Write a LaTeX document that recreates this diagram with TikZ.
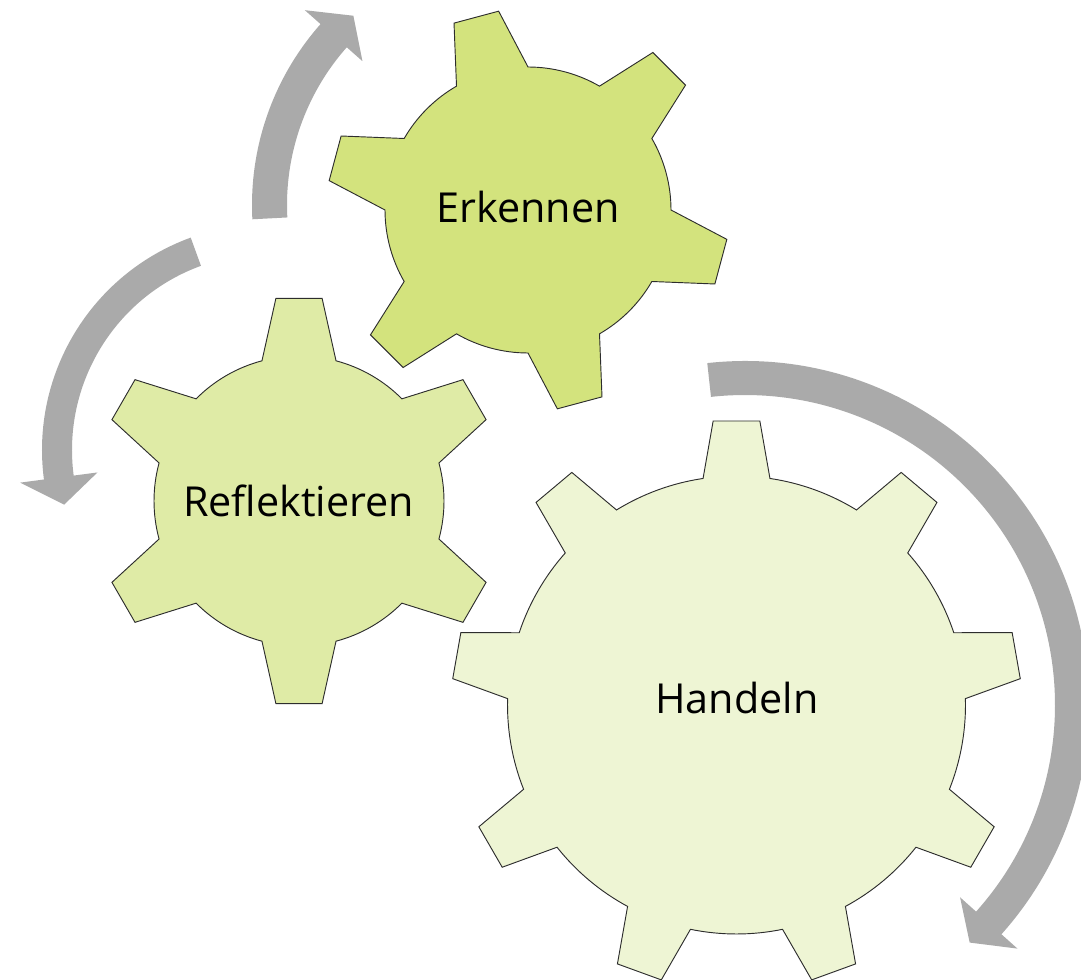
\documentclass[tikz,border=0pt]{standalone}
\usepackage{fontspec}
\setmainfont{Open Sans}
\usetikzlibrary{calc}
\definecolor{gearA}{RGB}{211,227,125}
\definecolor{gearB}{RGB}{223,235,166}
\definecolor{gearC}{RGB}{238,245,212}
\definecolor{arrowgray}{RGB}{170,170,170}
\definecolor{gearline}{RGB}{45,45,45}
\tikzset{
  gearshape/.style={draw=gearline, line width=0.7pt, line join=miter},
  circarrow/.style={fill=arrowgray, draw=none},
  lbl/.style={inner sep=0pt, anchor=base, font=\fontsize{31}{37}\selectfont, text=black}
}
% #1 center, #2 teeth, #3 first tooth angle, #4 root r, #5 tip r, #6 base half angle, #7 tip half angle, #8 style
\newcommand{\mygear}[8]{%
  \path[#8] ($(#1)+({#3-#6}:#4)$)
  \foreach \k in {1,...,#2}{
    -- ($(#1)+({#3+(\k-1)*360/#2-#7}:#5)$)
    -- ($(#1)+({#3+(\k-1)*360/#2+#7}:#5)$)
    -- ($(#1)+({#3+(\k-1)*360/#2+#6}:#4)$)
    arc[start angle={#3+(\k-1)*360/#2+#6}, end angle={#3+\k*360/#2-#6}, radius=#4]
  } -- cycle;
}
% #1 center, #2 r in, #3 r out, #4 tail angle, #5 head base angle, #6 tip angle, #7 head half width
\newcommand{\myarrow}[7]{%
  \path[circarrow] ($(#1)+(#4:#3)$) arc[start angle=#4, end angle=#5, radius=#3]
    -- ($(#1)+(#5:{(#2+#3)/2+#7})$)
    -- ($(#1)+(#6:{(#2+#3)/2})$)
    -- ($(#1)+(#5:{(#2+#3)/2-#7})$)
    -- ($(#1)+(#5:#2)$)
    arc[start angle=#5, end angle=#4, radius=#2] -- cycle;
}
\begin{document}
\begin{tikzpicture}[x=0.75pt, y=0.75pt]
\useasboundingbox (0,0) rectangle (1081,979);
\clip (0,0) rectangle (1081,979);
% centres (image y flipped: y = 979 - y_img)
\coordinate (cH) at (736.5,274);
\coordinate (cE) at (528,769);
\coordinate (cR) at (299,478);
\coordinate (a1) at (525,774);
\coordinate (a2) at (268,529);
\coordinate (a3) at (745,274);
% gears
\mygear{cH}{9}{10}{229}{285}{8.4}{4.7}{gearshape, fill=gearC}
\mygear{cE}{6}{105}{143}{201}{15}{6.6}{gearshape, fill=gearA}
\mygear{cR}{6}{90}{145}{204}{14.8}{6.5}{gearshape, fill=gearB}
% circular arrows
\myarrow{a1}{238}{273}{183}{138.5}{132.2}{38.5}
\myarrow{a2}{196}{226}{110}{187.5}{195}{39}
\myarrow{a3}{310}{344}{96.3}{-41.8}{-46.6}{38.5}
% labels
\node[lbl] (erk) at (528,756) {Erkennen};
\node[lbl] (ref) at (298.5,462) {Reflektieren};
\node[lbl] (han) at (737,266) {Handeln};
\end{tikzpicture}
\end{document}
